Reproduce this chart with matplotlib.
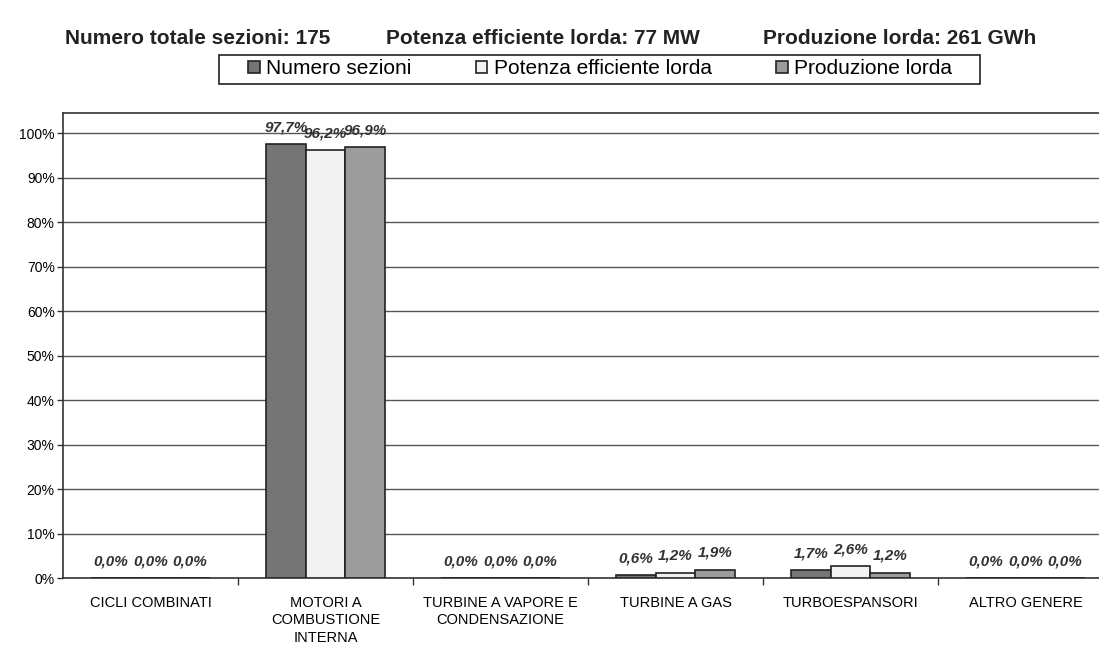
import numpy as np
import matplotlib
matplotlib.use("Agg")
import matplotlib.pyplot as plt
from matplotlib.patches import Patch, Rectangle
from matplotlib.ticker import FixedLocator

categorie = ["CICLI COMBINATI", "MOTORI A\nCOMBUSTIONE\nINTERNA",
             "TURBINE A VAPORE E\nCONDENSAZIONE", "TURBINE A GAS",
             "TURBOESPANSORI", "ALTRO GENERE"]
numero_sezioni = [0.0, 97.7, 0.0, 0.6, 1.7, 0.0]
potenza = [0.0, 96.2, 0.0, 1.2, 2.6, 0.0]
produzione = [0.0, 96.9, 0.0, 1.9, 1.2, 0.0]
serie_nomi = ["Numero sezioni", "Potenza efficiente lorda", "Produzione lorda"]
intestazioni = ["Numero totale sezioni: 175", "Potenza efficiente lorda: 77 MW",
                "Produzione lorda: 261 GWh"]

colori = ["#757575", "#f2f2f2", "#9c9c9c"]
plt.rcParams["font.family"] = ["Liberation Sans", "DejaVu Sans"]

W, H = 1099, 646
fig = plt.figure(figsize=(W / 100, H / 100), dpi=100)
ax = fig.add_axes([63 / W, 68 / H, 1050 / W, 465 / H])

x = np.arange(len(categorie))
w = 0.225
serie = [numero_sezioni, potenza, produzione]
for i, (vals, col) in enumerate(zip(serie, colori)):
    pos = x + (i - 1) * w
    ax.bar(pos, vals, width=w, color=col, edgecolor="#222222", linewidth=1.2, zorder=3)
    for xp, v in zip(pos, vals):
        ax.annotate(f"{v:.1f}%".replace(".", ","), (xp, v), xytext=(0, 12),
                    textcoords="offset points", ha="center", va="center",
                    fontsize=11, fontweight="bold", fontstyle="italic",
                    color="#333333", zorder=4)

ax.set_xlim(-0.5, len(categorie) - 0.5)
ax.set_ylim(0, 104.6)
ax.set_yticks(np.arange(0, 101, 10))
ax.set_yticklabels([f"{t}%" for t in range(0, 101, 10)], fontsize=10)
ax.yaxis.grid(True, color="#555555", linewidth=1.0)
ax.set_axisbelow(True)

ax.set_xticks(x)
ax.set_xticklabels(categorie, fontsize=10.5, linespacing=1.3)
ax.tick_params(axis="x", length=0, pad=13)
ax.xaxis.set_minor_locator(FixedLocator(x[:-1] + 0.5))
ax.tick_params(axis="x", which="minor", length=5, width=1, direction="out", color="#333333")
ax.tick_params(axis="y", length=4, width=1, color="#333333", pad=2)

for s in ["left", "bottom", "top"]:
    ax.spines[s].set_color("#333333")
    ax.spines[s].set_linewidth(1.2)
ax.spines["right"].set_visible(False)

for xt, testo in zip([65, 386, 763], intestazioni):
    fig.text(xt / W, 1 - 38 / H, testo, fontsize=15, fontweight="bold",
             va="center", ha="left", color="#222222")

# legenda con cornice rettangolare disegnata a parte
handles = [Patch(facecolor=c, edgecolor="#222222", linewidth=1.2) for c in colori]
fig.legend(handles, serie_nomi, loc="center", ncol=3,
           bbox_to_anchor=(600 / W, 1 - 69 / H),
           prop={"size": 15}, frameon=False,
           handlelength=0.55, handleheight=0.55,
           handletextpad=0.3, columnspacing=3.1)
fig.add_artist(Rectangle((219 / W, 1 - 84 / H), 761 / W, 29 / H,
                         transform=fig.transFigure, facecolor="none",
                         edgecolor="#222222", linewidth=1.2))

fig.savefig("out.png", dpi=100)
